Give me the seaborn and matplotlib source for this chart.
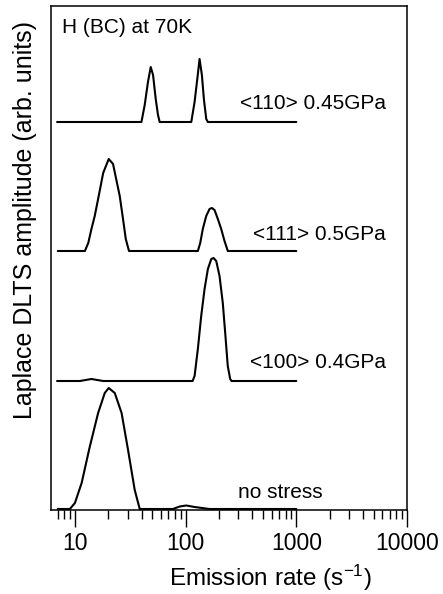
import numpy as np
import pandas as pd
import matplotlib
matplotlib.use("Agg")
import matplotlib.pyplot as plt
import matplotlib.ticker as mticker
import seaborn as sns

# ---- data ----
labels = ["<110> 0.45GPa", "<111> 0.5GPa", "<100> 0.4GPa", "no stress"]
offsets = [3.87, 2.58, 1.28, 0.0]

c1_x = [6.9, 39.9, 42.7, 45.7, 48.4, 50.8, 53.7, 56.3, 58.3,
        112.5, 120.5, 127.5, 133.7, 140.3, 146.2, 153.6, 158.8, 1000]
c1_y = [0, 0, 0.17, 0.40, 0.55, 0.47, 0.23, 0.07, 0,
        0, 0.20, 0.43, 0.63, 0.47, 0.23, 0.03, 0, 0]

c2_x = [7.0, 12.3, 13.2, 14.1, 15.1, 16.2, 18.0, 20.2, 22.1, 24.0, 25.4, 27.2, 28.8, 30.8,
        129, 135.5, 143, 153.5, 164.5, 172.6, 182.5, 195.5, 209.7, 224.6, 240.5, 1000]
c2_y = [0, 0, 0.08, 0.22, 0.35, 0.52, 0.78, 0.92, 0.87, 0.68, 0.55, 0.32, 0.12, 0,
        0, 0.08, 0.22, 0.35, 0.42, 0.43, 0.41, 0.32, 0.22, 0.10, 0, 0]

c3_x = [6.9, 11.1, 14.1, 18.0, 115.6, 120.5, 129, 138.3, 148.3, 158.9, 170.6, 178.8,
        189.1, 202.5, 216.7, 229, 240.3, 252.7, 260, 1000]
c3_y = [0, 0, 0.02, 0, 0, 0.05, 0.32, 0.65, 0.92, 1.12, 1.22, 1.23,
        1.20, 1.05, 0.78, 0.45, 0.15, 0.02, 0, 0]

c4_x = [7.0, 9.0, 10, 11.5, 13.6, 16.2, 18.6, 20.2, 22.9, 26.4, 30.2, 34.7, 38.5,
        76.9, 88.3, 101.4, 120.5, 164.5, 1000]
c4_y = [0, 0, 0.06, 0.26, 0.62, 0.96, 1.16, 1.21, 1.16, 0.96, 0.59, 0.19, 0,
        0, 0.025, 0.035, 0.02, 0, 0]

xticks = [10, 100, 1000, 10000]
xtick_labels = ["10", "100", "1000", "10000"]

series_x = [c1_x, c2_x, c3_x, c4_x]
series_y = [c1_y, c2_y, c3_y, c4_y]

frames = []
for lab, off, xs, ys in zip(labels, offsets, series_x, series_y):
    frames.append(pd.DataFrame({"rate": xs,
                                "signal": np.asarray(ys) + off,
                                "series": lab}))
df = pd.concat(frames, ignore_index=True)

# ---- style ----
sns.set_theme(style="ticks")
plt.rcParams["font.family"] = ["Liberation Sans", "DejaVu Sans"]
plt.rcParams["mathtext.fontset"] = "custom"
plt.rcParams["mathtext.rm"] = "Liberation Sans"
plt.rcParams["mathtext.it"] = "Liberation Sans"
plt.rcParams["mathtext.default"] = "regular"

fig = plt.figure(figsize=(4.43, 5.94), dpi=100)
ax = fig.add_axes([51 / 443, 84 / 594, 356 / 443, 504 / 594])

for lab in labels:
    sns.lineplot(data=df[df["series"] == lab], x="rate", y="signal",
                 estimator=None, sort=False, color="black", lw=1.5, ax=ax)

ax.set_xscale("log")
ax.set_xlim(6.08, 10000)
ax.set_ylim(-0.01, 5.03)

ax.set_xticks(xticks)
ax.set_xticklabels(xtick_labels)
ax.xaxis.set_minor_locator(mticker.LogLocator(base=10, subs=np.arange(2, 10)))
ax.xaxis.set_minor_formatter(mticker.NullFormatter())
ax.tick_params(axis="x", which="major", direction="out", length=12, width=1.0,
               labelsize=16.5, pad=4, color="black", labelcolor="black")
ax.tick_params(axis="x", which="minor", direction="out", length=6.5, width=1.0,
               color="black")
ax.set_yticks([])

for sp in ax.spines.values():
    sp.set_visible(True)
    sp.set_color("black")
    sp.set_linewidth(1.1)

ax.set_xlabel(r"Emission rate (s$^{-1}$)", fontsize=17.5, color="black")
ax.xaxis.set_label_coords(0.615, -0.105)
ax.set_ylabel("Laplace DLTS amplitude (arb. units)", fontsize=18, color="black")
ax.yaxis.set_label_coords(-0.04, 0.575)

# annotations
ax.text(0.031, 0.958, "H (BC) at 70K", transform=ax.transAxes, fontsize=15,
        ha="left", va="center", color="black")
label_pos = [(0.941, 0.806), (0.941, 0.546), (0.941, 0.292), (0.764, 0.034)]
for lab, (tx, ty) in zip(labels, label_pos):
    ax.text(tx, ty, lab, transform=ax.transAxes, fontsize=15,
            ha="right", va="center", color="black")

fig.savefig("out.png", dpi=100, facecolor="white")
